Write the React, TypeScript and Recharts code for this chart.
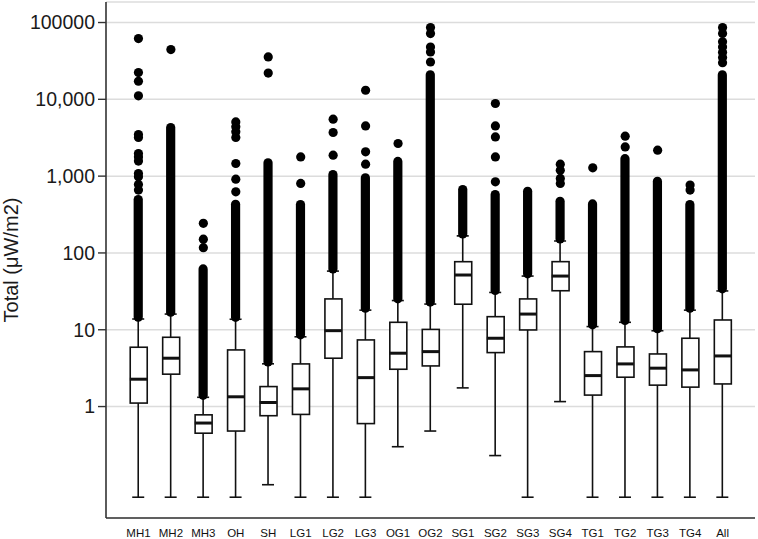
import React from "react";
import { ComposedChart, Bar, Scatter, XAxis, YAxis, CartesianGrid } from "recharts";

const categories = ["MH1", "MH2", "MH3", "OH", "SH", "LG1", "LG2", "LG3", "OG1", "OG2", "SG1", "SG2", "SG3", "SG4", "TG1", "TG2", "TG3", "TG4", "All"];
const whiskerLow = [0.066, 0.066, 0.066, 0.066, 0.096, 0.066, 0.066, 0.066, 0.3, 0.48, 1.75, 0.23, 0.066, 1.16, 0.066, 0.066, 0.066, 0.066, 0.066];
const q1 = [1.11, 2.64, 0.45, 0.48, 0.76, 0.79, 4.26, 0.6, 3.06, 3.38, 21.5, 5.04, 9.94, 32.2, 1.41, 2.41, 1.9, 1.79, 1.97];
const median = [2.27, 4.26, 0.61, 1.34, 1.13, 1.7, 9.73, 2.38, 4.95, 5.19, 51.6, 7.75, 16.0, 50.0, 2.53, 3.59, 3.16, 3.0, 4.56];
const q3 = [5.92, 7.98, 0.78, 5.46, 1.82, 3.59, 25.2, 7.37, 12.5, 10.1, 76.9, 14.8, 25.2, 77, 5.19, 5.98, 4.84, 7.75, 13.4];
const whiskerHigh = [13.8, 16, 1.32, 13.7, 3.6, 8.1, 58, 18, 24, 21.6, 167, 30.6, 50, 143, 11, 12.5, 9.7, 18, 32];
// many overlapping outliers drawn as one solid column
const denseLow = [14.6, 16.9, 1.4, 14.5, 3.8, 8.6, 62, 19.1, 25.3, 22.9, 177, 32.5, 53.4, 152, 11.6, 13.2, 10.3, 19.1, 34.1];
const denseHigh = [495, 4300, 62, 429, 1490, 427, 1050, 950, 1555, 20900, 668, 575, 635, 470, 435, 1690, 857, 427, 20900];
const outliers: number[][] = [
  [61800, 22300, 17200, 11100, 3480, 3190, 1970, 1780, 1570, 1080, 980, 780, 658],
  [44400],
  [243, 151, 117],
  [5080, 4380, 3770, 3190, 1460, 914, 625],
  [35600, 22000],
  [1780, 804],
  [5510, 3700, 1875],
  [13130, 4510, 2070, 1432],
  [2660],
  [85900, 71800, 48000, 41300, 30600],
  [],
  [8820, 4510, 3240, 1780, 843],
  [],
  [1432, 1197, 933, 804],
  [1282],
  [3310, 2400],
  [2180],
  [764, 658],
  [86000, 72000, 56000, 48000, 41000, 35000, 30000],
];

const yTicks = [1, 10, 100, 1000, 10000, 100000];
const yTickLabels = ["1", "10", "100", "1,000", "10,000", "100000"];
const xTicks = categories.map((_, i) => i + 1);

const rows = categories.map((name, i) => ({
  pos: i + 1,
  name,
  min: whiskerLow[i],
  q1: q1[i],
  median: median[i],
  q3: q3[i],
  max: whiskerHigh[i],
  dLow: denseLow[i],
  dHigh: denseHigh[i],
}));

const outlierPoints = outliers.flatMap((vals, i) => vals.map((v) => ({ pos: i + 1, v })));

const FONT = "'Liberation Sans', Arial, sans-serif";
const INK = "#111";

// eslint-disable-next-line @typescript-eslint/no-explicit-any
function span(p: any) {
  const top = Math.min(p.y, p.y + p.height);
  const bottom = Math.max(p.y, p.y + p.height);
  return { top, bottom, cx: p.x + p.width / 2 };
}

// eslint-disable-next-line @typescript-eslint/no-explicit-any
const WhiskerShape = (p: any) => {
  const { top, bottom, cx } = span(p);
  return (
    <g stroke={INK} strokeWidth={1.6}>
      <line x1={cx} x2={cx} y1={top} y2={bottom} />
      <line x1={p.x} x2={p.x + p.width} y1={top} y2={top} />
      <line x1={p.x} x2={p.x + p.width} y1={bottom} y2={bottom} />
    </g>
  );
};

// eslint-disable-next-line @typescript-eslint/no-explicit-any
const BoxShape = (p: any) => {
  const { top, bottom } = span(p);
  return <rect x={p.x} y={top} width={p.width} height={bottom - top} fill="#fff" stroke={INK} strokeWidth={1.6} />;
};

// eslint-disable-next-line @typescript-eslint/no-explicit-any
const DenseShape = (p: any) => {
  const { top, bottom, cx } = span(p);
  return <line x1={cx} x2={cx} y1={top} y2={bottom} stroke="#000" strokeWidth={9.2} strokeLinecap="round" />;
};

// eslint-disable-next-line @typescript-eslint/no-explicit-any
const MedianShape = (p: any) => (
  <line x1={p.cx - 8.6} x2={p.cx + 8.6} y1={p.cy} y2={p.cy} stroke={INK} strokeWidth={3} />
);

// eslint-disable-next-line @typescript-eslint/no-explicit-any
const DotShape = (p: any) => <circle cx={p.cx} cy={p.cy} r={4.6} fill="#000" />;

// eslint-disable-next-line @typescript-eslint/no-explicit-any
const renderYTitle = (props: any) => {
  const { x, y, height } = props.viewBox;
  const cx = x + 11;
  const cy = y + height / 2;
  return (
    <text
      x={cx}
      y={cy}
      transform={`rotate(-90 ${cx} ${cy})`}
      textAnchor="middle"
      dominantBaseline="central"
      fontFamily={FONT}
      fontSize={20}
      fill="#1a1a1a"
    >
      Total (μW/m2)
    </text>
  );
};

export default function App() {
  return (
    <div style={{ width: 758, height: 539, background: "#fff" }}>
      <style>{"body{margin:0}"}</style>
      <ComposedChart width={758} height={539} data={rows} margin={{ top: 2, right: 3, bottom: 0, left: 0 }}>
        <CartesianGrid vertical={false} stroke="#dcdcdc" strokeWidth={1.5} />
        <XAxis
          dataKey="pos"
          type="number"
          domain={[0, 20]}
          ticks={xTicks}
          interval={0}
          tickFormatter={(v: number) => categories[v - 1] ?? ""}
          tickLine={false}
          tickSize={6}
          tickMargin={5}
          height={21}
          axisLine={{ stroke: "#333", strokeWidth: 1.6 }}
          tick={{ fill: "#111", fontSize: 11.5, fontFamily: FONT }}
        />
        <XAxis xAxisId="top" orientation="top" type="number" domain={[0, 20]} height={0} tick={false} tickLine={false} axisLine={{ stroke: "#333", strokeWidth: 1.6 }} />
        <XAxis xAxisId="w" dataKey="pos" type="number" domain={[0, 20]} hide />
        <XAxis xAxisId="b" dataKey="pos" type="number" domain={[0, 20]} hide />
        <XAxis xAxisId="d" dataKey="pos" type="number" domain={[0, 20]} hide />
        <YAxis
          scale="log"
          domain={[0.0354, 185000]}
          allowDataOverflow
          ticks={yTicks}
          interval={0}
          tickFormatter={(v: number) => yTickLabels[yTicks.indexOf(v)] ?? String(v)}
          width={106}
          tickSize={8}
          tickMargin={3}
          tickLine={{ stroke: "#333", strokeWidth: 1.4 }}
          axisLine={{ stroke: "#333", strokeWidth: 1.6 }}
          tick={{ fill: "#1a1a1a", fontSize: 19.5, fontFamily: FONT }}
          label={{ value: "Total (μW/m2)", content: renderYTitle }}
        />
        <YAxis yAxisId="right" orientation="right" width={0} tick={false} tickLine={false} axisLine={{ stroke: "#333", strokeWidth: 1.6 }} />
        <Bar xAxisId="w" dataKey={(d: any) => [d.min, d.max]} barSize={12} shape={WhiskerShape} isAnimationActive={false} />
        <Bar xAxisId="b" dataKey={(d: any) => [d.q1, d.q3]} barSize={17} shape={BoxShape} isAnimationActive={false} />
        <Bar xAxisId="d" dataKey={(d: any) => [d.dLow, d.dHigh]} barSize={10} shape={DenseShape} isAnimationActive={false} />
        <Scatter data={rows} dataKey="median" shape={MedianShape} isAnimationActive={false} />
        <Scatter data={outlierPoints} dataKey="v" shape={DotShape} isAnimationActive={false} />
      </ComposedChart>
    </div>
  );
}
